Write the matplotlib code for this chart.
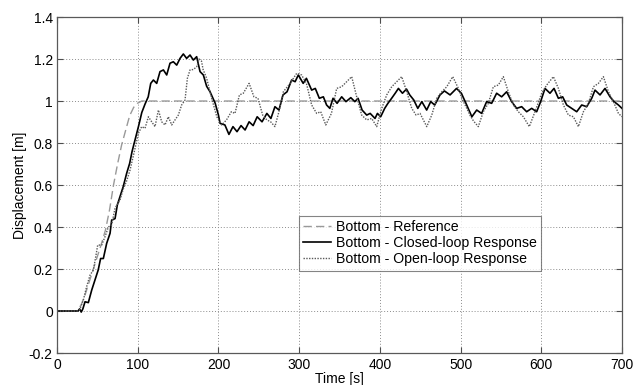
import numpy as np
import matplotlib
matplotlib.use("Agg")
import matplotlib.pyplot as plt

# ===== Data =====
t_ref = [0, 25, 30, 35, 40, 45, 50, 55, 60, 65, 70, 75, 80, 85, 90, 95, 100, 105, 700]
y_ref = [0, 0, 0.03, 0.08, 0.14, 0.20, 0.26, 0.32, 0.385, 0.48, 0.60, 0.70, 0.79,
         0.86, 0.93, 0.97, 0.99, 1.0, 1.0]

t_closed = [0, 20, 26, 28, 30, 32, 34.7, 38.8, 43, 47, 51, 54, 57.4, 61.5, 65.7, 67.7,
            71.9, 74.7, 78, 82, 86.3, 90, 93, 97, 101, 105, 109, 113, 116.1, 119.4,
            123.5, 127.6, 131.8, 135.9, 140, 144.1, 148.3, 152.4, 156.5, 160.6, 164.8,
            168.9, 173, 177.2, 181.3, 185.4, 189.6, 196, 200, 202, 208, 213, 218, 223,
            228, 233, 238, 243, 248, 254, 260, 265, 270, 275, 280, 285, 290.7, 295, 299,
            305, 309, 315.5, 320, 325, 330, 334, 338, 342, 347, 352.7, 358, 364, 369,
            373, 378, 383.7, 388, 394, 397, 401, 406, 410, 414.6, 419, 423, 428, 433,
            437, 442, 447, 452, 458, 463, 468, 474.5, 480, 487, 495, 501, 507.6, 514,
            520, 526.1, 532.3, 538.5, 544.7, 550.9, 557.1, 563.3, 569.5, 575.7, 581.9,
            588.1, 594.3, 599.2, 604.6, 610.8, 615.8, 621.2, 626.5, 631.5, 637.7, 643.9,
            650.1, 656.3, 662.5, 666.6, 672.8, 679, 685.2, 690.2, 695.6, 700]
y_closed = [0, 0, 0, 0.01, -0.005, 0.01, 0.044, 0.04, 0.10, 0.148, 0.195, 0.25, 0.25,
            0.322, 0.37, 0.433, 0.44, 0.505, 0.544, 0.592, 0.656, 0.703, 0.76, 0.82,
            0.88, 0.945, 0.985, 1.02, 1.084, 1.10, 1.084, 1.14, 1.148, 1.124, 1.18,
            1.187, 1.171, 1.203, 1.224, 1.203, 1.219, 1.195, 1.211, 1.14, 1.124, 1.07,
            1.044, 0.989, 0.933, 0.894, 0.886, 0.841, 0.878, 0.854, 0.883, 0.862, 0.901,
            0.883, 0.925, 0.901, 0.941, 0.917, 0.973, 0.957, 1.029, 1.044, 1.10, 1.092,
            1.124, 1.084, 1.108, 1.052, 1.06, 1.013, 1.02, 0.981, 0.965, 1.013, 0.989,
            1.02, 0.997, 1.016, 0.997, 1.013, 0.957, 0.933, 0.941, 0.917, 0.941, 0.925,
            0.965, 0.989, 1.013, 1.037, 1.06, 1.037, 1.057, 1.029, 1.005, 0.965, 0.997,
            0.957, 0.997, 0.981, 1.029, 1.048, 1.029, 1.06, 1.037, 0.981, 0.925, 0.957,
            0.941, 0.997, 0.989, 1.037, 1.02, 1.044, 0.997, 0.965, 0.973, 0.949, 0.965,
            0.949, 0.997, 1.06, 1.037, 1.06, 1.013, 1.02, 0.981, 0.965, 0.949, 0.981,
            0.973, 1.013, 1.052, 1.029, 1.06, 1.02, 0.997, 0.981, 0.965]

t_open = [0, 25, 28, 30.5, 32.6, 36.7, 40.9, 45, 48, 50.4, 55.3, 59.5, 63.6, 67.7, 71.9,
          78, 82, 86.3, 90.4, 94, 97, 100.8, 104.9, 109, 113.2, 117.3, 121.4, 125.6,
          129.7, 133.8, 137.9, 142.1, 146.2, 150.3, 154.4, 158.6, 161.5, 164.8, 168.9,
          173, 176, 179, 181, 185.4, 191.6, 198, 204, 210, 216, 220.5, 226, 230.8, 238,
          244, 249, 254.8, 260, 264.7, 270, 275, 280.4, 288.7, 297, 303, 309, 315.5,
          321.7, 326.7, 333, 340, 346.5, 352.7, 358.9, 365.1, 371.3, 377.5, 383.7,
          389.9, 396.1, 402.3, 408.5, 414.7, 420.9, 427.1, 433.3, 439.5, 444.9, 449.8,
          458.1, 464.3, 470.5, 476.7, 482.9, 490.3, 497.3, 501.5, 507.7, 512, 516, 522,
          528.2, 534.4, 540.6, 546.8, 553, 559.2, 565.4, 571.6, 577.8, 585.2, 592.2,
          600.5, 606.7, 615, 621.2, 627.4, 633.6, 639.8, 646, 652.2, 658.4, 664.6,
          670.8, 677, 683.2, 689.4, 695.6, 700]
y_open = [0, 0, 0.005, 0.03, 0.052, 0.116, 0.171, 0.195, 0.259, 0.314, 0.314, 0.354,
          0.40, 0.41, 0.49, 0.528, 0.58, 0.62, 0.67, 0.73, 0.78, 0.846, 0.878, 0.870,
          0.925, 0.901, 0.878, 0.957, 0.901, 0.886, 0.925, 0.886, 0.91, 0.933, 0.981,
          1.005, 1.108, 1.148, 1.15, 1.163, 1.20, 1.19, 1.15, 1.108, 1.013, 0.925,
          0.886, 0.91, 0.949, 0.941, 1.029, 1.037, 1.084, 1.02, 1.013, 0.933, 0.91,
          0.901, 0.878, 0.95, 1.044, 1.084, 1.132, 1.124, 1.084, 0.981, 0.941, 0.949,
          0.886, 0.941, 1.06, 1.068, 1.092, 1.116, 1.02, 0.933, 0.91, 0.917, 0.878,
          0.965, 1.029, 1.068, 1.092, 1.116, 1.044, 0.965, 0.933, 0.941, 0.878, 0.933,
          1.013, 1.044, 1.068, 1.116, 1.06, 1.013, 0.965, 0.93, 0.905, 0.878, 0.949,
          0.989, 1.068, 1.076, 1.116, 1.044, 0.981, 0.949, 0.925, 0.878, 0.949, 1.037,
          1.076, 1.116, 1.06, 0.981, 0.933, 0.925, 0.878, 0.949, 0.989, 1.068, 1.084,
          1.116, 1.044, 0.997, 0.941, 0.925]

x_ticks = [0, 100, 200, 300, 400, 500, 600, 700]
y_ticks = [-0.2, 0, 0.2, 0.4, 0.6, 0.8, 1, 1.2, 1.4]
y_tick_labels = ['-0.2', '0', '0.2', '0.4', '0.6', '0.8', '1', '1.2', '1.4']

plt.rcParams['font.family'] = ['Liberation Sans', 'DejaVu Sans']
plt.rcParams['font.size'] = 10

fig = plt.figure(figsize=(6.35, 3.85), dpi=100)
ax = fig.add_axes([0.0898, 0.0831, 0.8897, 0.8727])

ax.plot(t_ref, y_ref, color='0.6', linestyle=(0, (6, 3)), linewidth=1.0,
        label='Bottom - Reference')
ax.plot(t_closed, y_closed, color='black', linewidth=1.2,
        label='Bottom - Closed-loop Response')
ax.plot(t_open, y_open, color='0.35', linestyle=(0, (1, 1)), linewidth=1.0,
        label='Bottom - Open-loop Response')

ax.set_xlim(0, 700)
ax.set_ylim(-0.2, 1.4)
ax.set_xticks(x_ticks)
ax.set_yticks(y_ticks)
ax.set_yticklabels(y_tick_labels)
ax.set_xlabel('Time [s]', labelpad=0)
ax.set_ylabel('Displacement [m]', labelpad=1)

ax.grid(True, color='0.55', linestyle=(0, (1, 2)), linewidth=0.7)
ax.tick_params(direction='in', top=True, right=True, length=4, width=0.8,
               color='0.3')
ax.tick_params(axis='x', pad=3.5)
ax.tick_params(axis='y', pad=3)
for s in ax.spines.values():
    s.set_color('0.35')
    s.set_linewidth(0.9)

leg = ax.legend(loc='lower left', bbox_to_anchor=(0.428, 0.245), fontsize=10.2,
                frameon=True, fancybox=False, handlelength=2.0, handletextpad=0.3,
                borderpad=0.3, labelspacing=0.15, borderaxespad=0)
leg.get_frame().set_edgecolor('0.4')
leg.get_frame().set_linewidth(0.8)

fig.savefig('out.png', dpi=100)
